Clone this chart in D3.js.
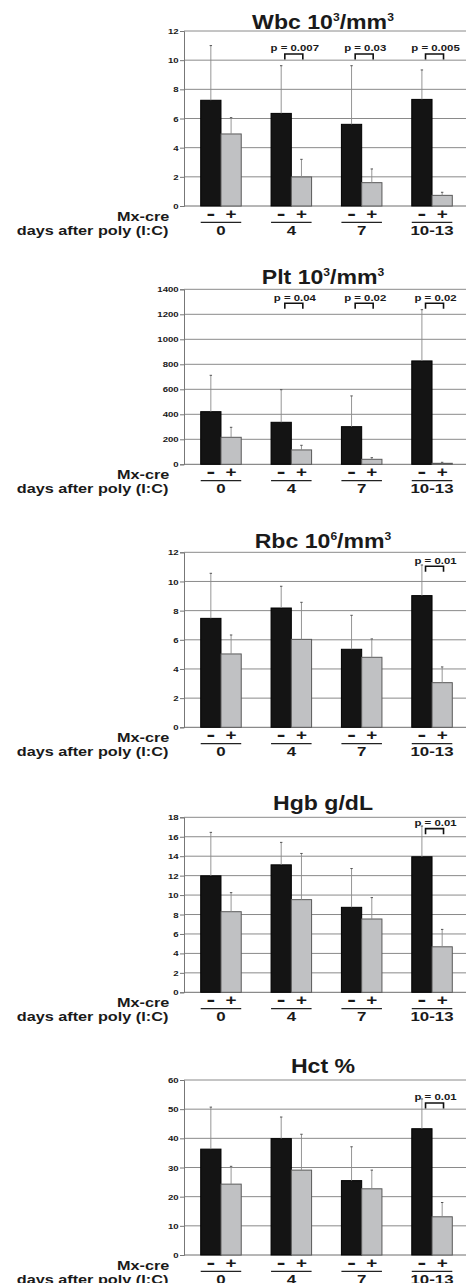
<!DOCTYPE html>
<html>
<head>
<meta charset="utf-8">
<script src="https://cdn.jsdelivr.net/npm/d3@7"></script>
<style>
  body { margin: 0; background: #fff; }
  svg text { font-family: 'Liberation Sans', Arial, sans-serif; font-weight: bold; fill: #1a1a1a; }
</style>
</head>
<body>
<div id="chart"></div>
<script>
// groups and genotypes
const groups = ['0', '4', '7', '10-13']
const signs = ['-', '+']

// means and SD, Mx-cre - / +
const wbcNeg = [7.25, 6.35, 5.6, 7.31]
const wbcNegSD = [3.75, 3.27, 4.02, 2.02]
const wbcPos = [4.94, 1.99, 1.6, 0.73]
const wbcPosSD = [1.12, 1.21, 0.94, 0.21]
const wbcP = [null, '0.007', '0.03', '0.005']

const pltNeg = [421, 336, 301, 827]
const pltNegSD = [291, 261, 246, 410]
const pltPos = [216, 115, 40, 8]
const pltPosSD = [80, 37, 13, 8]
const pltP = [null, '0.04', '0.02', '0.02']

const rbcNeg = [7.47, 8.18, 5.35, 9.03]
const rbcNegSD = [3.09, 1.49, 2.33, 2.10]
const rbcPos = [5.03, 6.03, 4.8, 3.06]
const rbcPosSD = [1.30, 2.54, 1.26, 1.08]
const rbcP = [null, null, null, '0.01']

const hgbNeg = [11.98, 13.11, 8.74, 13.94]
const hgbNegSD = [4.47, 2.31, 3.99, 3.16]
const hgbPos = [8.29, 9.53, 7.54, 4.68]
const hgbPosSD = [1.96, 4.75, 2.2, 1.79]
const hgbP = [null, null, null, '0.01']

const hctNeg = [36.3, 39.9, 25.5, 43.3]
const hctNegSD = [14.4, 7.4, 11.6, 10.2]
const hctPos = [24.3, 29.1, 22.7, 13.1]
const hctPosSD = [6.1, 12.3, 6.4, 4.9]
const hctP = [null, null, null, '0.01']

// y ticks per panel
const wbcTicks = [0, 2, 4, 6, 8, 10, 12]
const pltTicks = [0, 200, 400, 600, 800, 1000, 1200, 1400]
const rbcTicks = [0, 2, 4, 6, 8, 10, 12]
const hgbTicks = [0, 2, 4, 6, 8, 10, 12, 14, 16, 18]
const hctTicks = [0, 10, 20, 30, 40, 50, 60]

// level (data units) of the p-value brackets
const bracketLevel = [10.42, 1288, 11.04, 16.83, 52.1]

const panels = [
  {title: [['Wbc 10'], ['3', 1], ['/mm'], ['3', 1]], neg: wbcNeg, negSD: wbcNegSD, pos: wbcPos, posSD: wbcPosSD, p: wbcP, ticks: wbcTicks},
  {title: [['Plt 10'], ['3', 1], ['/mm'], ['3', 1]], neg: pltNeg, negSD: pltNegSD, pos: pltPos, posSD: pltPosSD, p: pltP, ticks: pltTicks},
  {title: [['Rbc 10'], ['6', 1], ['/mm'], ['3', 1]], neg: rbcNeg, negSD: rbcNegSD, pos: rbcPos, posSD: rbcPosSD, p: rbcP, ticks: rbcTicks},
  {title: [['Hgb g/dL']], neg: hgbNeg, negSD: hgbNegSD, pos: hgbPos, posSD: hgbPosSD, p: hgbP, ticks: hgbTicks},
  {title: [['Hct %']], neg: hctNeg, negSD: hctNegSD, pos: hctPos, posSD: hctPosSD, p: hctP, ticks: hctTicks}
]

const width = 466
const height = 1283
const panelTop = [31, 289.3, 552.3, 817.3, 1080]
const titleDy = [-2.5, -5, -4, -7, -6.7]
const plotH = 175
const left = 184
const right = 469

const svg = d3.select('#chart').append('svg')
  .attr('width', width)
  .attr('height', height)

const x0 = d3.scaleBand().domain(groups).range([left, right])
  .paddingInner(0.424).paddingOuter(0.2375)
const x1 = d3.scaleBand().domain(signs).range([0, x0.bandwidth()])

// stretched text helper (figure glyphs are wide)
function label (g, x, y, txt, size, sx, anchor) {
  return g.append('text')
    .attr('transform', 'translate(' + x + ',' + y + ') scale(' + sx + ',1)')
    .attr('text-anchor', anchor || 'middle')
    .style('font-size', size + 'px')
    .text(txt)
}

panels.forEach((pn, k) => {
  const g = svg.append('g').attr('transform', 'translate(0,' + panelTop[k] + ')')
  const yMax = pn.ticks[pn.ticks.length - 1]
  const y = d3.scaleLinear().domain([0, yMax]).range([plotH, 0])

  // title, with superscripts
  const t = g.append('text')
    .attr('transform', 'translate(323,' + titleDy[k] + ') scale(1.1,1)')
    .attr('text-anchor', 'middle')
    .style('font-size', '21px')
  pn.title.forEach((part, j) => {
    if (part[1]) {
      t.append('tspan').attr('dy', -8).style('font-size', '11px').text(part[0])
    } else {
      t.append('tspan').attr('dy', j ? 8 : 0).text(part[0])
    }
  })

  // grid
  g.selectAll('.grid').data(pn.ticks).enter().append('line')
    .attr('x1', left).attr('x2', right)
    .attr('y1', d => y(d)).attr('y2', d => y(d))
    .attr('stroke', d => d === 0 ? '#6e6e6e' : '#8a8a8a')
    .attr('stroke-width', 1)

  // y axis
  const ax = g.append('g').attr('transform', 'translate(' + left + ',0)')
    .call(d3.axisLeft(y).tickValues(pn.ticks).tickFormat(d3.format('d')).tickSize(4).tickPadding(2))
  ax.select('.domain').attr('stroke', '#777')
  ax.selectAll('.tick line').attr('stroke', '#777')
  ax.selectAll('.tick text')
    .attr('x', -5.3 / 1.2)
    .attr('transform', 'scale(1.2,1)')
    .style('font-size', '8px')
    .style('font-family', "'Liberation Sans', Arial, sans-serif")
    .attr('fill', '#333')

  // bars
  const rows = groups.map((grp, i) => ({
    grp: grp, i: i,
    vals: [
      {s: '-', v: pn.neg[i], sd: pn.negSD[i]},
      {s: '+', v: pn.pos[i], sd: pn.posSD[i]}
    ]
  }))

  const grpG = g.selectAll('.grp').data(rows).enter().append('g')
    .attr('transform', d => 'translate(' + x0(d.grp) + ',0)')

  grpG.selectAll('rect').data(d => d.vals).enter().append('rect')
    .attr('x', d => x1(d.s))
    .attr('y', d => y(d.v))
    .attr('width', x1.bandwidth())
    .attr('height', d => plotH - y(d.v))
    .attr('fill', d => d.s === '-' ? '#141414' : '#c0c1c3')
    .attr('stroke', d => d.s === '-' ? '#000' : '#5a5a5a')
    .attr('stroke-width', 1)

  // error bars (upper only)
  grpG.selectAll('.err').data(d => d.vals).enter().append('line')
    .attr('x1', d => x1(d.s) + x1.bandwidth() / 2)
    .attr('x2', d => x1(d.s) + x1.bandwidth() / 2)
    .attr('y1', d => y(d.v))
    .attr('y2', d => y(d.v + d.sd))
    .attr('stroke', '#8a8a8a')
    .attr('stroke-width', 0.9)
  grpG.selectAll('.cap').data(d => d.vals).enter().append('line')
    .attr('x1', d => x1(d.s) + x1.bandwidth() / 2 - 1.2)
    .attr('x2', d => x1(d.s) + x1.bandwidth() / 2 + 1.2)
    .attr('y1', d => y(d.v + d.sd))
    .attr('y2', d => y(d.v + d.sd))
    .attr('stroke', '#555')
    .attr('stroke-width', 1)

  // p-value brackets
  const bw = x0.bandwidth()
  rows.filter(d => pn.p[d.i]).forEach(d => {
    const cx = x0(d.grp) + bw / 2 + 2.5
    const by = y(bracketLevel[k])
    g.append('path')
      .attr('d', 'M' + (cx - 9) + ',' + (by + 5.5) + 'V' + by + 'H' + (cx + 9) + 'V' + (by + 5.5))
      .attr('fill', 'none')
      .attr('stroke', '#111')
      .attr('stroke-width', 1.6)
    label(g, x0(d.grp) + bw / 2 + 3.5, by - 2.8, 'p = ' + pn.p[d.i], 9.5, 1.2)
  })

  // x labels: genotype signs, underline, day group
  rows.forEach(d => {
    d.vals.forEach(v => {
      const cx = x0(d.grp) + x1(v.s) + x1.bandwidth() / 2
      if (v.s === '-') label(g, cx, plotH + 14, v.s, 18, 1.45)
      else label(g, cx, plotH + 12.8, v.s, 14, 1.35)
    })
    g.append('line')
      .attr('x1', x0(d.grp)).attr('x2', x0(d.grp) + bw)
      .attr('y1', plotH + 16.3).attr('y2', plotH + 16.3)
      .attr('stroke', '#222').attr('stroke-width', 1.3)
    label(g, x0(d.grp) + bw / 2, plotH + 29, d.grp, 12.5, 1.35)
  })

  label(g, 169.3, plotH + 14.7, 'Mx-cre', 13, 1.25, 'end')
  label(g, 168.3, plotH + 29, 'days after poly (I:C)', 13, 1.25, 'end')
})
</script>
</body>
</html>
